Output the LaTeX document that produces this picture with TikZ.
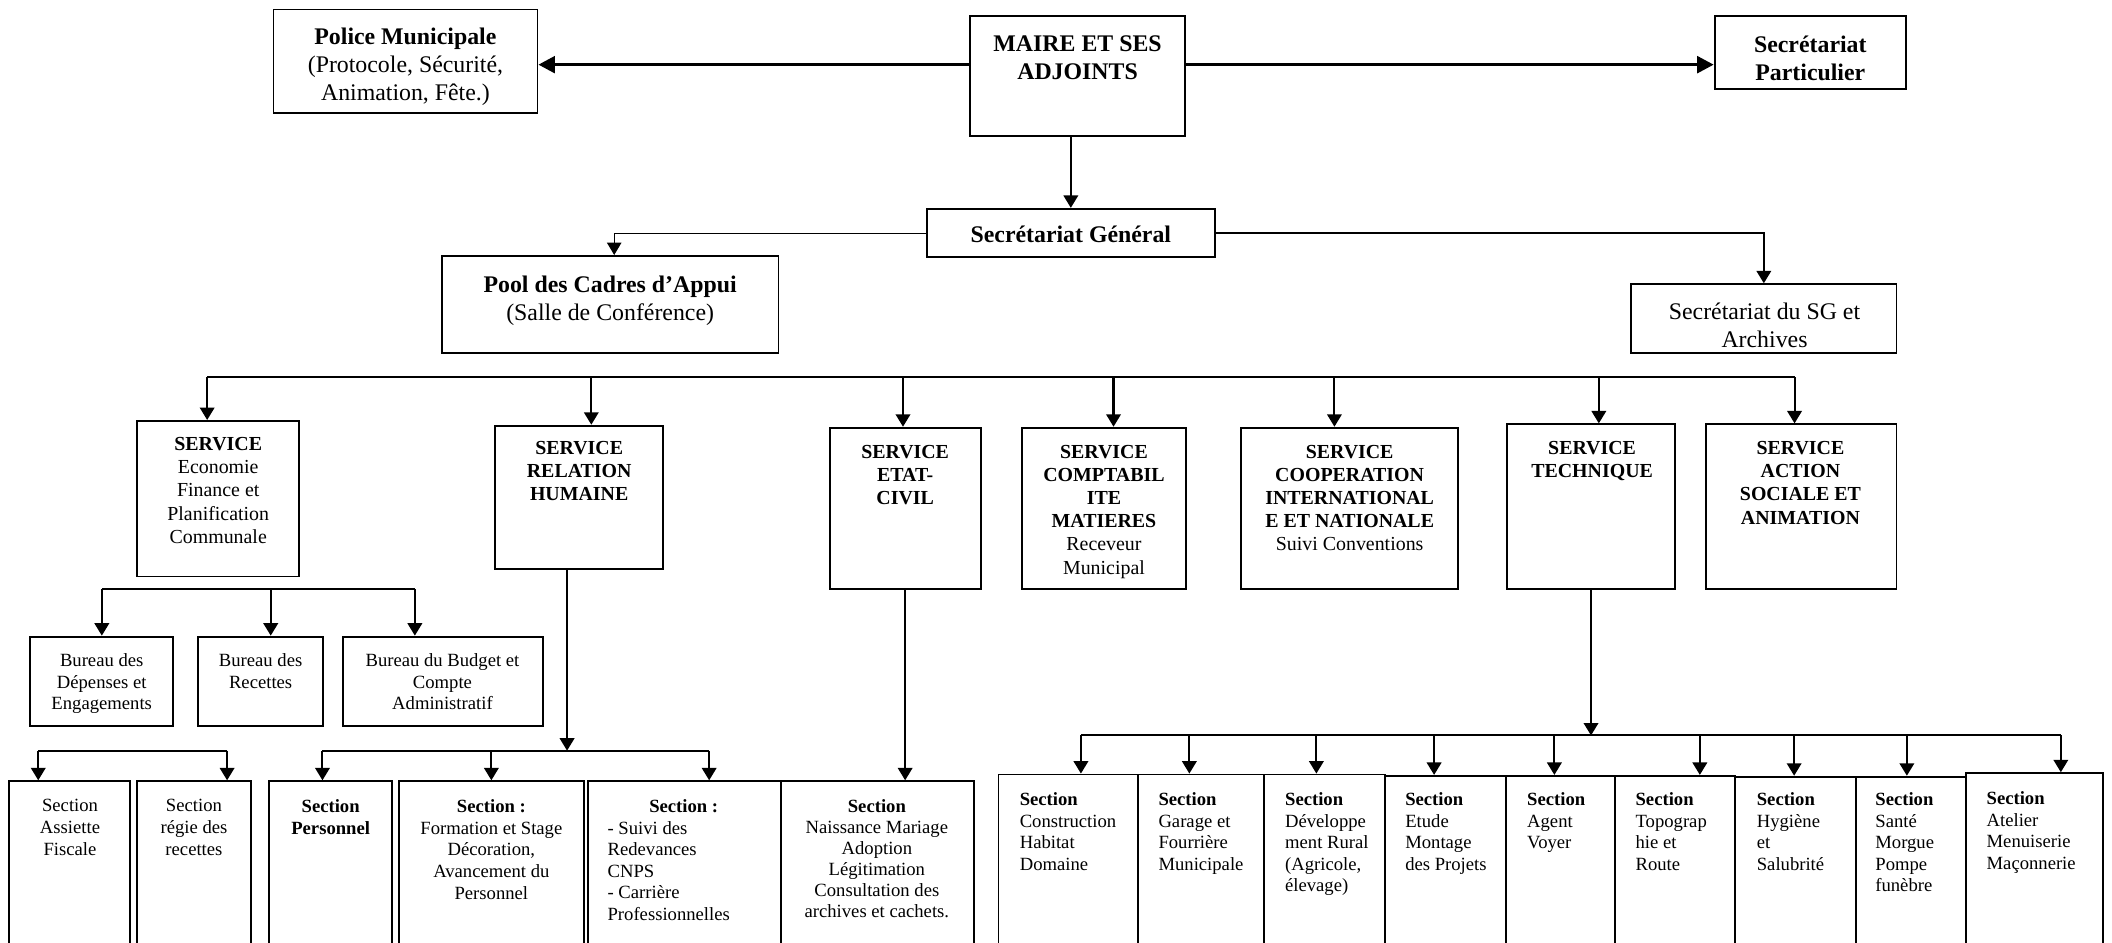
\documentclass[tikz,border=0pt]{standalone}
\usepackage{fontspec}
\setmainfont{Liberation Serif}
\usetikzlibrary{arrows.meta,fit,calc}
\begin{document}
\begin{tikzpicture}[x=0.65pt,y=-0.65pt,
  box/.style={draw,line width=0.9pt,inner sep=0pt},
  tA/.style={font=\fontsize{11.5}{13.4}\selectfont,align=center,inner sep=0pt,anchor=north},
  tS/.style={font=\fontsize{9.6}{11.2}\selectfont,align=center,inner sep=0pt,anchor=north},
  tB/.style={font=\fontsize{9}{10.45}\selectfont,align=center,inner sep=0pt,anchor=north},
  tBl/.style={font=\fontsize{9}{10.4}\selectfont,align=left,inner sep=0pt,anchor=north west},
  ln/.style={line width=1pt},
  arr/.style={line width=1pt,-{Triangle[length=6pt,width=7pt]}},
  bigarr/.style={line width=1.7pt,-{Triangle[length=8pt,width=8pt]}},
  thinarr/.style={line width=0.5pt,-{Triangle[length=6pt,width=7pt]}}
]
\useasboundingbox (0,0) rectangle (1568,700);
\clip (0,0) rectangle (1568,700);

% ---------- top level boxes
\node[box,fit={(203,7) (399,84)}] (pol) {};
\node[box,fit={(720,12) (880,101)}] (mai) {};
\node[box,fit={(1273,12) (1415,66)}] (spa) {};
\node[box,fit={(688,155) (902,191)}] (sg) {};
\node[box,fit={(328,190) (578,262)}] (pool) {};
\node[box,fit={(1211,211) (1408,262)}] (ssg) {};

\node[tA] (polt) at (301,20.5) {\textbf{Police Municipale}\\(Protocole, Sécurité,\\Animation, Fête.)};
\node[tA,font=\fontsize{11.5}{13.4}\selectfont\bfseries] (mait) at (800,26.5) {MAIRE ET SES\\ADJOINTS};
\node[tA,font=\fontsize{11.5}{13.4}\selectfont\bfseries] (spat) at (1344,26.5) {Secrétariat\\Particulier};
\node[tA,font=\fontsize{11.5}{13.4}\selectfont\bfseries] (sgt) at (795,167.5) {Secrétariat Général};
\node[tA] (poolt) at (453,204.5) {\textbf{Pool des Cadres d’Appui}\\(Salle de Conférence)};
\node[tA] (ssgt) at (1310,224.5) {Secrétariat du SG et\\Archives};

% ---------- services
\node[box,fit={(102,312.5) (222,428)}] (eco) {};
\node[box,fit={(367.5,316) (492,422.6)}] (rh) {};
\node[box,fit={(616,317.5) (728,437)}] (ec) {};
\node[box,fit={(758.5,317.5) (880.7,437)}] (cpt) {};
\node[box,fit={(921.5,317.5) (1082.4,437)}] (coop) {};
\node[box,fit={(1118.8,315) (1243.6,437)}] (tec) {};
\node[box,fit={(1266.5,315) (1408,437)}] (act) {};

\node[tS] (ecot) at (162,324.3) {\textbf{SERVICE}\\Economie\\Finance et\\Planification\\Communale};
\node[tS,font=\fontsize{9.6}{11.2}\selectfont\bfseries] (rht) at (430,327.3) {SERVICE\\RELATION\\HUMAINE};
\node[tS,font=\fontsize{9.6}{11.2}\selectfont\bfseries] (ect) at (672,330) {SERVICE\\ETAT-\\CIVIL};
\node[tS] (cptt) at (819.6,330) {\textbf{SERVICE}\\\textbf{COMPTABIL}\\\textbf{ITE}\\\textbf{MATIERES}\\Receveur\\Municipal};
\node[tS] (coopt) at (1002,330) {\textbf{SERVICE}\\\textbf{COOPERATION}\\\textbf{INTERNATIONAL}\\\textbf{E ET NATIONALE}\\Suivi Conventions};
\node[tS,font=\fontsize{9.6}{11.2}\selectfont\bfseries] (tect) at (1182,327.3) {SERVICE\\TECHNIQUE};
\node[tS,font=\fontsize{9.6}{11.2}\selectfont\bfseries] (actt) at (1336.7,327.3) {SERVICE\\ACTION\\SOCIALE ET\\ANIMATION};

% ---------- bureaux
\node[box,fit={(22,472.6) (128.5,539)}] (bd) {};
\node[box,fit={(147,472.6) (240,539)}] (br) {};
\node[box,fit={(254.6,472.6) (403,539)}] (bb) {};
\node[tB] (bdt) at (75.5,485) {Bureau des\\Dépenses et\\Engagements};
\node[tB] (brt) at (193.5,485) {Bureau des\\Recettes};
\node[tB] (bbt) at (328.5,485) {Bureau du Budget et\\Compte\\Administratif};

% ---------- sections (left)
\node[box,fit={(7,580) (96.6,720)}] (sa) {};
\node[box,fit={(101.5,580) (186.4,720)}] (sr) {};
\node[box,fit={(199.6,580) (291,720)}] (sp) {};
\node[box,fit={(296,580) (433.7,720)}] (sf) {};
\node[box,fit={(436.4,580) (579.6,720)}] (ss) {};
\node[box,fit={(579.7,580) (723,720)}] (sn) {};

\node[tB] (sat) at (52,593.2) {Section\\Assiette\\Fiscale};
\node[tB] (srt) at (144,593.2) {Section\\régie des\\recettes};
\node[tB,font=\fontsize{9}{10.45}\selectfont\bfseries] (spt) at (245.5,593.2) {Section\\Personnel};
\node[tB] (sft) at (364.8,593.2) {\textbf{Section :}\\Formation et Stage\\Décoration,\\Avancement du\\Personnel};
\node[tB,font=\fontsize{9}{10.45}\selectfont\bfseries] (ssh) at (507.6,593.2) {Section :};
\node[tBl] (sst) at (450.8,609.3) {- Suivi des\\Redevances\\CNPS\\- Carrière\\Professionnelles};
\node[tB,font=\fontsize{9}{10.15}\selectfont] (snt) at (651,593.2) {\textbf{Section}\\Naissance Mariage\\Adoption\\Légitimation\\Consultation des\\archives et cachets.};

% ---------- sections (technique)
\node[box,fit={(741.3,575) (845,720)}] (t1) {};
\node[box,fit={(845,575) (938.7,720)}] (t2) {};
\node[box,fit={(938.7,575) (1028.5,720)}] (t3) {};
\node[box,fit={(1028.5,576) (1118,720)}] (t4) {};
\node[box,fit={(1118,576) (1199,720)}] (t5) {};
\node[box,fit={(1199,576) (1288,720)}] (t6) {};
\node[box,fit={(1288,576.6) (1378,720)}] (t7) {};
\node[box,fit={(1378,576.6) (1459.6,720)}] (t8) {};
\node[box,fit={(1459.6,574) (1561.5,720)}] (t9) {};

\node[tBl] (t1t) at (756.8,588.3) {\textbf{Section}\\Construction\\Habitat\\Domaine};
\node[tBl] (t2t) at (859.8,588.3) {\textbf{Section}\\Garage et\\Fourrière\\Municipale};
\node[tBl] (t3t) at (953.8,588.3) {\textbf{Section}\\Développe\\ment Rural\\(Agricole,\\élevage)};
\node[tBl] (t4t) at (1043,588.3) {\textbf{Section}\\Etude\\Montage\\des Projets};
\node[tBl] (t5t) at (1133.5,588.3) {\textbf{Section}\\Agent\\Voyer};
\node[tBl] (t6t) at (1214,588.3) {\textbf{Section}\\Topograp\\hie et\\Route};
\node[tBl] (t7t) at (1304,588.3) {\textbf{Section}\\Hygiène\\et\\Salubrité};
\node[tBl] (t8t) at (1392,588.3) {\textbf{Section}\\Santé\\Morgue\\Pompe\\funèbre};
\node[tBl] (t9t) at (1474.6,587.6) {\textbf{Section}\\Atelier\\Menuiserie\\Maçonnerie};

% ---------- connectors: top
\coordinate (ytop) at (0,48);
\draw[bigarr] (mai.west |- ytop) -- (pol.east |- ytop);
\draw[bigarr] (mai.east |- ytop) -- (spa.west |- ytop);
\coordinate (xm) at (795,0);
\draw[arr] (xm |- mai.south) -- (xm |- sg.north);
\coordinate (xp) at (456,0);
\draw[thinarr] (sg.west) -| (xp |- pool.north);
\draw[arr] (sg.east) -| (ssg.north);

% ---------- service bus
\coordinate (d1) at (153.8,280);
\coordinate (d2) at (439,280);
\coordinate (d3) at (670.4,280);
\coordinate (d4) at (826.7,280);
\coordinate (d5) at (990.7,280);
\coordinate (d6) at (1187,280);
\coordinate (d7) at (1332.3,280);
\draw[ln] (d1) -- (d7);
\draw[arr] (d1) -- (d1 |- eco.north);
\draw[arr] (d2) -- (d2 |- rh.north);
\draw[arr] (d3) -- (d3 |- ec.north);
\draw[arr] (d4) -- (d4 |- cpt.north);
\draw[arr] (d5) -- (d5 |- coop.north);
\draw[arr] (d6) -- (d6 |- tec.north);
\draw[arr] (d7) -- (d7 |- act.north);

% ---------- bureaux bus
\coordinate (e1) at (75.6,437.2);
\coordinate (e2) at (201,437.2);
\coordinate (e3) at (308,437.2);
\draw[ln] (e1) -- (e3);
\draw[arr] (e1) -- (e1 |- bd.north);
\draw[arr] (e2) -- (e2 |- br.north);
\draw[arr] (e3) -- (e3 |- bb.north);

% ---------- left sections bus
\coordinate (a1) at (28.4,557.3);
\coordinate (a2) at (168.6,557.3);
\draw[ln] (a1) -- (a2);
\draw[arr] (a1) -- (a1 |- sa.north);
\draw[arr] (a2) -- (a2 |- sr.north);

% ---------- RH sections bus
\coordinate (rin) at (421,557.3);
\coordinate (r1) at (239.4,557.3);
\coordinate (r2) at (364.8,557.3);
\coordinate (r3) at (526.5,557.3);
\draw[arr] (rin |- rh.south) -- (rin);
\draw[ln] (r1) -- (r3);
\draw[arr] (r1) -- (r1 |- sp.north);
\draw[arr] (r2) -- (r2 |- sf.north);
\draw[arr] (r3) -- (r3 |- ss.north);

% ---------- etat civil
\draw[arr] (ec.south) -- (ec.south |- sn.north);

% ---------- technique bus
\coordinate (tb) at (0,546);
\draw[arr] (tec.south) -- (tec.south |- tb);
\coordinate (k1) at (802.5,546);
\coordinate (k2) at (883,546);
\coordinate (k3) at (977.3,546);
\coordinate (k4) at (1064.7,546);
\coordinate (k5) at (1154,546);
\coordinate (k6) at (1262,546);
\coordinate (k7) at (1332,546);
\coordinate (k8) at (1415.7,546);
\coordinate (k9) at (1530,546);
\draw[ln] (k1) -- (k9);
\draw[arr] (k1) -- (k1 |- t1.north);
\draw[arr] (k2) -- (k2 |- t2.north);
\draw[arr] (k3) -- (k3 |- t3.north);
\draw[arr] (k4) -- (k4 |- t4.north);
\draw[arr] (k5) -- (k5 |- t5.north);
\draw[arr] (k6) -- (k6 |- t6.north);
\draw[arr] (k7) -- (k7 |- t7.north);
\draw[arr] (k8) -- (k8 |- t8.north);
\draw[arr] (k9) -- (k9 |- t9.north);
\end{tikzpicture}
\end{document}
